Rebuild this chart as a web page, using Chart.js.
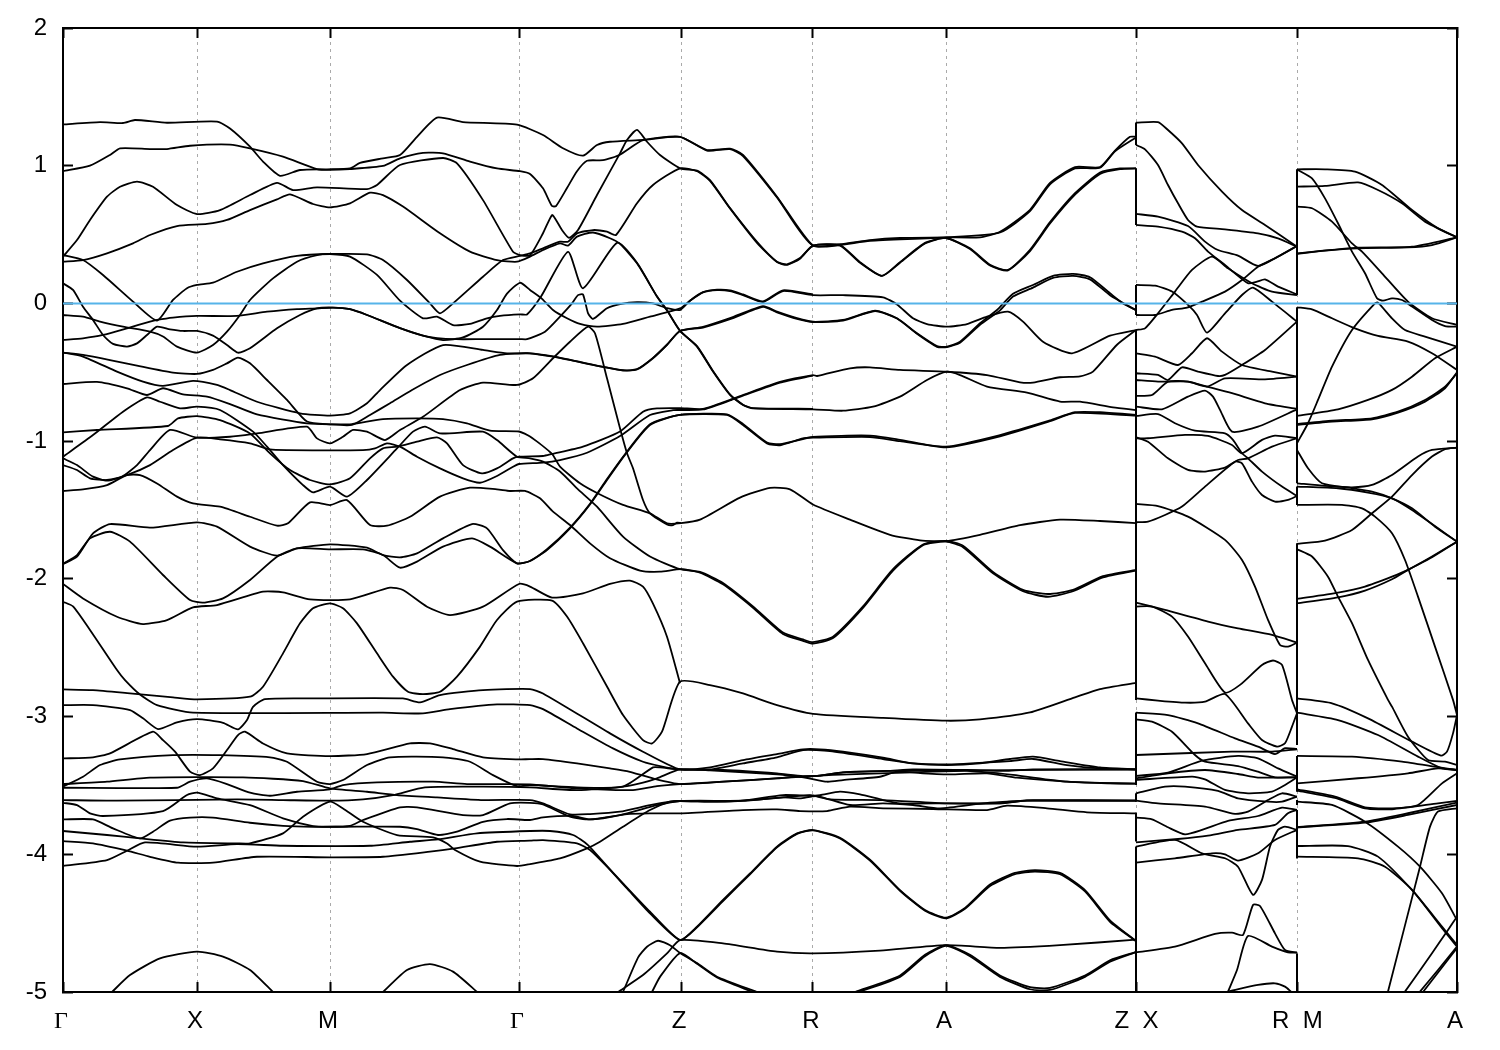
<!DOCTYPE html>
<html>
<head>
<meta charset="utf-8">
<title>Band structure</title>
<script src="https://cdn.jsdelivr.net/npm/chart.js@4"></script>
<style>
  body { margin: 0; background: #fff; }
  canvas { display: block; }
</style>
</head>
<body>
<canvas id="bands" width="1500" height="1050"></canvas>
<script>
// k path ticks
const kTicks = [0, 134, 267, 456, 618, 750, 883, 1073, 1234, 1394];
const kLabels = ['Γ', 'X', 'M', 'Γ', 'Z', 'R', 'A', '\u2009Z  X', '\u2009R  M', 'A'];
const energyTicks = [-5, -4, -3, -2, -1, 0, 1, 2];
const fermiLevel = [[0, 0], [1394, 0]];

// Γ - X - M - Γ - Z - R - A - Z
const b01 = [[0,1.30],[37,1.317],[60,1.31],[72,1.332],[104,1.312],[154,1.32],[167,1.27],[187,1.138],[200,1.03],[217,.927],[237,.969],[264,.974],[287,.98],[297,1.02],[320,1.054],[337,1.078],[354,1.21],[374,1.349],[400,1.317],[454,1.298],[480,1.223],[500,1.127],[520,1.073],[534,1.15],[547,1.174],[580,1.187],[617,1.21],[644,1.114],[667,1.124],[680,1.078],[714,.775],[750,.42],[777,.43],[807,.46],[837,.475],[883,.48],[917,.48],[937,.52],[967,.68],[987,.875],[1012,.99],[1037,.99],[1052,1.11],[1067,1.21],[1073,1.21]];
const b02 = [[0,.96],[27,1.0],[47,1.078],[57,1.126],[87,1.121],[104,1.121],[127,1.145],[167,1.153],[187,1.126],[220,1.066],[254,.976],[267,.97],[287,.976],[320,.998],[337,1.054],[360,1.094],[380,1.09],[407,1.03],[434,.98],[457,.96],[467,.94],[480,.836],[489,.707],[493,.707],[504,.838],[514,.96],[524,1.036],[540,1.04],[557,1.08],[580,1.185],[617,1.21],[644,1.11],[667,1.12],[680,1.07],[714,.77],[750,.42],[807,.455],[883,.48],[937,.515],[967,.67],[987,.865],[1012,.98],[1037,.985],[1052,1.105],[1073,1.205]];
const b03 = [[0,.34],[14,.46],[27,.606],[44,.775],[57,.847],[74,.884],[90,.847],[114,.714],[134,.649],[157,.678],[187,.787],[214,.876],[230,.823],[254,.843],[304,.83],[314,.86],[337,1.005],[380,1.056],[394,1.017],[420,.75],[450,.375],[457,.351],[467,.35],[480,.51],[489,.642],[493,.606],[499,.533],[506,.477],[515,.533],[534,.787],[557,1.09],[564,1.187],[574,1.26],[584,1.174],[597,1.078],[617,.981],[634,.964],[647,.896],[667,.693],[694,.448],[714,.303],[724,.284],[737,.33],[750,.42],[777,.424],[797,.30],[819,.2],[837,.30],[862,.44],[883,.475],[907,.40],[927,.28],[945,.243],[967,.39],[987,.59],[1012,.80],[1037,.95],[1057,.98],[1073,.98]];
const b04 = [[0,.303],[20,.315],[44,.364],[70,.436],[87,.497],[114,.562],[144,.577],[164,.606],[187,.678],[214,.756],[227,.792],[250,.722],[267,.698],[287,.727],[307,.804],[320,.787],[340,.703],[377,.509],[407,.376],[434,.315],[454,.303],[467,.34],[480,.388],[497,.436],[505,.42],[514,.485],[530,.515],[547,.473],[557,.432],[574,.291],[594,.05],[604,-.05],[617,-.197],[634,-.314],[650,-.495],[667,-.665],[680,-.738],[690,-.762],[750,-.769],[780,-.779],[810,-.75],[837,-.677],[864,-.556],[884,-.496],[897,-.52],[924,-.604],[964,-.648],[997,-.713],[1017,-.713],[1050,-.755],[1073,-.774]];
const b05 = [[0,.352],[20,.315],[40,.206],[70,.013],[94,-.125],[110,.025],[124,.11],[134,.134],[150,.151],[174,.23],[200,.291],[234,.346],[267,.359],[304,.356],[320,.315],[344,.17],[367,0],[377,-.072],[390,0],[420,.194],[440,.315],[457,.345],[467,.363],[480,.40],[497,.448],[505,.448],[514,.509],[530,.533],[544,.521],[553,.497],[574,.727],[590,.86],[617,.981],[634,.96],[647,.89],[667,.69],[694,.44],[714,.30],[724,.28],[737,.325],[750,.42],[777,.42],[797,.295],[819,.2],[837,.295],[862,.435],[883,.475],[907,.395],[927,.275],[945,.24],[967,.38],[987,.58],[1012,.79],[1037,.94],[1057,.975],[1073,.98]];
const b06 = [[0,.146],[10,.098],[20,-.024],[30,-.12],[40,-.229],[50,-.294],[64,-.313],[74,-.29],[84,-.229],[94,-.169],[107,-.188],[120,-.2],[134,-.2],[150,-.234],[164,-.302],[175,-.358],[187,-.326],[214,-.181],[237,-.084],[254,-.036],[270,-.03],[287,-.042],[304,-.084],[337,-.18],[360,-.234],[380,-.266],[400,-.247],[420,-.169],[434,-.048],[444,.071],[457,.15],[467,.098],[478,.04],[490,-.048],[504,-.108],[517,-.149],[534,-.169],[560,-.149],[587,-.096],[617,-.036],[627,.02],[640,.08],[654,.097],[667,.09],[680,.06],[700,.01],[720,.09],[750,.06],[780,.06],[820,.044],[834,-.007],[850,-.108],[864,-.15],[884,-.169],[904,-.15],[924,-.096],[945,-.06],[960,-.132],[980,-.278],[1009,-.362],[1047,-.234],[1073,-.193]];
const b07 = [[0,-.084],[20,-.096],[37,-.132],[60,-.169],[87,-.205],[100,-.24],[114,-.314],[134,-.357],[150,-.302],[164,-.205],[177,-.084],[187,.025],[210,.182],[234,.303],[254,.35],[267,.359],[287,.34],[314,.207],[337,.02],[360,-.108],[374,-.096],[390,-.157],[407,-.149],[424,-.108],[437,-.09],[457,-.079],[464,-.08],[478,.05],[505,.375],[520,.11],[554,.44],[574,.295],[594,.05],[604,-.05],[617,-.2],[634,-.31],[650,-.49],[667,-.66],[680,-.735],[690,-.76],[750,-.765]];
const b08 = [[0,-.265],[20,-.253],[40,-.229],[64,-.181],[87,-.132],[94,-.12],[110,-.103],[134,-.091],[174,-.091],[204,-.06],[234,-.041],[254,-.036],[270,-.03],[287,-.042],[304,-.084],[337,-.18],[360,-.234],[380,-.256],[400,-.26],[420,-.259],[457,-.259],[464,-.26],[482,-.205],[497,-.096],[509,0],[515,.06],[520,.065],[525,-.07],[530,-.113],[544,-.035],[557,-.005],[574,.01],[590,0],[604,-.035],[617,-.048],[627,.02],[640,.082],[654,.1],[667,.095],[680,.065],[700,.015],[720,.095],[750,.065]];
const b09 = [[0,-.357],[20,-.386],[54,-.495],[80,-.568],[100,-.599],[130,-.563],[154,-.592],[167,-.629],[194,-.714],[237,-.798],[267,-.815],[287,-.798],[304,-.725],[317,-.629],[344,-.447],[380,-.302],[420,-.338],[444,-.362],[467,-.362],[490,-.387],[540,-.46],[560,-.484],[574,-.48],[590,-.398],[604,-.3],[617,-.2],[640,-.17],[667,-.107],[700,-.02],[714,-.06],[734,-.107],[750,-.133],[780,-.12],[812,-.053],[834,-.108],[854,-.217],[874,-.31],[884,-.314],[897,-.278],[917,-.144],[934,-.048],[950,.07],[970,.134],[990,.2],[1010,.215],[1027,.19],[1047,.074],[1060,0],[1073,-.048]];
const b10 = [[0,-.357],[20,-.374],[47,-.411],[74,-.452],[110,-.503],[134,-.512],[150,-.483],[164,-.435],[175,-.394],[187,-.435],[204,-.556],[224,-.701],[244,-.858],[267,-.878],[289,-.882],[307,-.81],[327,-.725],[349,-.629],[377,-.52],[404,-.447],[437,-.374],[467,-.362],[490,-.385],[540,-.46],[560,-.487],[574,-.477],[590,-.395],[604,-.30],[617,-.2],[640,-.175],[667,-.115],[700,-.025],[714,-.065],[734,-.112],[750,-.135],[780,-.125],[812,-.055],[834,-.11],[854,-.22],[874,-.315],[884,-.317],[897,-.285],[917,-.155],[937,-.05],[950,.05],[970,.115],[990,.185],[1010,.2],[1027,.175],[1047,.06],[1073,-.05]];
const b11 = [[0,-1.125],[14,-1.174],[30,-1.258],[44,-1.287],[59,-1.258],[74,-1.174],[87,-1.065],[107,-.919],[134,-.975],[167,-.968],[194,-.944],[244,-.895],[254,-.98],[267,-1.016],[280,-.968],[290,-.919],[304,-.931],[322,-.992],[337,-.919],[360,-.823],[397,-.629],[420,-.575],[454,-.592],[470,-.544],[490,-.398],[507,-.278],[525,-.169],[532,-.217],[544,-.544],[557,-.907],[564,-1.088],[570,-1.197],[580,-1.427],[587,-1.524],[604,-1.605],[610,-1.61],[614,-1.592],[618,-1.595]];
const b12 = [[0,-.585],[34,-.57],[64,-.616],[84,-.665],[100,-.616],[120,-.66],[144,-.677],[167,-.731],[194,-.806],[244,-.871],[267,-.878],[289,-.876],[320,-.84],[354,-.835],[380,-.84],[404,-.871],[427,-.924],[456,-.93],[467,-.967],[489,-1.093],[497,-1.185],[517,-1.306],[535,-1.38],[560,-1.463],[587,-1.524],[604,-1.597],[618,-1.595],[637,-1.57],[677,-1.41],[707,-1.34],[727,-1.35],[750,-1.46],[787,-1.57],[827,-1.68],[857,-1.72],[883,-1.725],[917,-1.68],[957,-1.61],[997,-1.57],[1037,-1.58],[1073,-1.595]];
const b13 = [[0,-.936],[34,-.919],[105,-.89],[115,-.835],[134,-.818],[157,-.847],[187,-.944],[207,-1.089],[227,-1.21],[247,-1.282],[267,-1.314],[287,-1.27],[307,-1.125],[320,-1.052],[334,-1.04],[354,-1.004],[374,-.973],[384,-1.016],[400,-1.174],[419,-1.234],[434,-1.198],[450,-1.125],[456,-1.113],[480,-1.108],[489,-1.093],[520,-1.04],[557,-.93],[580,-.786],[594,-.762],[617,-.76],[640,-.766],[667,-.70],[680,-.665],[717,-.57],[750,-.52],[754,-.527],[787,-.471],[807,-.464],[837,-.483],[884,-.496],[924,-.52],[957,-.573],[970,-.575],[997,-.536],[1017,-.53],[1030,-.495],[1054,-.30],[1073,-.193]];
const b14 = [[0,-1.113],[30,-.956],[60,-.786],[84,-.682],[97,-.714],[117,-.762],[134,-.75],[157,-.774],[190,-.931],[204,-1.04],[220,-1.174],[240,-1.319],[250,-1.372],[267,-1.331],[284,-1.403],[304,-1.282],[334,-1.053],[350,-.931],[362,-.895],[377,-.944],[420,-.931],[434,-.992],[454,-1.113],[467,-1.125],[480,-1.149],[497,-1.22],[514,-1.343],[534,-1.476],[560,-1.693],[587,-1.838],[617,-1.93],[637,-1.95],[660,-2.03],[690,-2.2],[720,-2.39],[740,-2.44],[750,-2.46],[770,-2.42],[800,-2.2],[830,-1.93],[860,-1.75],[883,-1.725],[900,-1.76],[930,-1.95],[960,-2.08],[985,-2.11],[1010,-2.08],[1040,-1.98],[1073,-1.935]];
const b15 = [[0,-1.174],[14,-1.21],[27,-1.27],[44,-1.282],[64,-1.246],[87,-1.174],[110,-1.065],[134,-.975],[157,-.987],[187,-1.016],[207,-1.06],[224,-1.065],[300,-1.065],[312,-1.053],[324,-1.016],[337,-1.04],[354,-1.113],[377,-1.198],[400,-1.27],[417,-1.302],[434,-1.253],[450,-1.186],[456,-1.166],[480,-1.156],[497,-1.137],[524,-1.084],[557,-.963],[587,-.81],[610,-.775],[617,-.774],[640,-.77],[667,-.705],[680,-.67],[717,-.575],[750,-.525]];
const b16 = [[0,-1.362],[20,-1.35],[44,-1.319],[64,-1.246],[77,-1.246],[94,-1.307],[114,-1.403],[130,-1.452],[157,-1.476],[187,-1.549],[214,-1.614],[225,-1.597],[247,-1.445],[267,-1.464],[284,-1.428],[307,-1.609],[324,-1.614],[347,-1.549],[377,-1.403],[407,-1.338],[434,-1.35],[447,-1.362],[462,-1.362],[477,-1.415],[490,-1.512],[507,-1.609],[527,-1.742],[547,-1.85],[577,-1.94],[597,-1.948],[618,-1.93],[637,-1.955],[660,-2.04],[690,-2.21],[720,-2.40],[740,-2.45],[750,-2.47],[770,-2.43],[800,-2.21],[830,-1.94],[860,-1.755],[883,-1.73],[900,-1.77],[930,-1.96],[960,-2.09],[985,-2.13],[1010,-2.09],[1040,-1.99],[1073,-1.94]];
const b17 = [[0,-1.892],[14,-1.839],[30,-1.67],[47,-1.602],[87,-1.628],[134,-1.59],[154,-1.621],[187,-1.766],[214,-1.832],[234,-1.779],[267,-1.749],[304,-1.774],[320,-1.827],[337,-1.844],[354,-1.815],[380,-1.706],[409,-1.602],[424,-1.633],[440,-1.791],[454,-1.887],[467,-1.87],[484,-1.79],[507,-1.633],[527,-1.46],[544,-1.282],[562,-1.10],[587,-.883],[617,-.81],[664,-.81],[680,-.883],[704,-1.016],[717,-1.03],[740,-.98],[750,-.975],[807,-.97],[837,-1.0],[883,-1.04],[937,-.956],[987,-.85],[1012,-.79],[1037,-.79],[1073,-.81]];
const b18 = [[0,-1.892],[14,-1.827],[27,-1.706],[47,-1.658],[67,-1.73],[100,-1.972],[127,-2.154],[140,-2.173],[160,-2.142],[187,-2.008],[214,-1.839],[234,-1.779],[267,-1.786],[300,-1.786],[320,-1.827],[337,-1.919],[354,-1.875],[380,-1.766],[409,-1.706],[427,-1.766],[454,-1.887],[467,-1.87],[484,-1.785],[507,-1.628],[527,-1.455],[544,-1.275],[562,-1.095],[587,-.878],[617,-.81],[664,-.805],[680,-.875],[704,-1.01],[717,-1.022],[750,-.97],[807,-.96],[837,-.99],[883,-1.045],[937,-.965],[987,-.855],[1012,-.795],[1073,-.815]];
const b19 = [[0,-2.037],[20,-2.142],[54,-2.275],[80,-2.328],[104,-2.299],[130,-2.207],[154,-2.19],[200,-2.093],[220,-2.098],[247,-2.149],[287,-2.149],[327,-2.064],[340,-2.081],[364,-2.202],[387,-2.263],[420,-2.202],[456,-2.037],[467,-2.056],[489,-2.136],[520,-2.105],[547,-2.037],[567,-2.013],[580,-2.056],[590,-2.18],[604,-2.42],[617,-2.758]];
const b20 = [[0,-2.166],[10,-2.2],[27,-2.371],[54,-2.662],[62,-2.735],[77,-2.84],[94,-2.917],[130,-2.972],[320,-2.972],[360,-2.977],[387,-2.946],[434,-2.912],[467,-2.917],[480,-2.946],[514,-3.086],[550,-3.231],[580,-3.328],[597,-3.359],[617,-3.384],[660,-3.388],[714,-3.413],[740,-3.432],[757,-3.429],[780,-3.405],[824,-3.395],[850,-3.383],[904,-3.388],[944,-3.395],[970,-3.383],[1073,-3.383]];
const b21 = [[0,-2.803],[30,-2.808],[67,-2.832],[110,-2.861],[134,-2.875],[187,-2.856],[200,-2.783],[220,-2.541],[237,-2.323],[250,-2.214],[267,-2.178],[280,-2.214],[294,-2.323],[314,-2.541],[330,-2.71],[345,-2.82],[360,-2.837],[377,-2.82],[394,-2.71],[417,-2.492],[434,-2.299],[454,-2.166],[489,-2.158],[504,-2.274],[520,-2.468],[544,-2.782],[560,-2.989],[580,-3.171],[589,-3.195],[599,-3.11],[617,-2.747],[647,-2.771],[680,-2.832],[714,-2.917],[750,-2.98],[820,-3.01],[883,-3.03],[917,-3.02],[967,-2.97],[1012,-2.86],[1037,-2.8],[1073,-2.755]];
const b22 = [[0,-2.917],[30,-2.917],[67,-2.953],[80,-3.013],[95,-3.091],[114,-3.042],[134,-3.018],[160,-3.045],[175,-3.093],[184,-3.025],[190,-2.929],[202,-2.873],[254,-2.868],[340,-2.868],[357,-2.897],[377,-2.844],[420,-2.808],[467,-2.80],[480,-2.832],[547,-3.122],[580,-3.255],[617,-3.384],[647,-3.369],[680,-3.316],[714,-3.272],[740,-3.238],[757,-3.238],[780,-3.255],[820,-3.299],[850,-3.34],[884,-3.352],[917,-3.34],[947,-3.308],[970,-3.291],[997,-3.323],[1037,-3.369],[1073,-3.383]];
const b23 = [[0,-3.304],[30,-3.296],[47,-3.267],[90,-3.11],[100,-3.171],[112,-3.255],[127,-3.4],[137,-3.425],[150,-3.376],[164,-3.243],[175,-3.134],[182,-3.11],[200,-3.195],[224,-3.267],[267,-3.287],[304,-3.272],[347,-3.195],[367,-3.195],[390,-3.236],[420,-3.296],[454,-3.311],[467,-3.309],[480,-3.309],[514,-3.34],[547,-3.376],[564,-3.396],[590,-3.449],[617,-3.49],[660,-3.473],[714,-3.449],[737,-3.437],[764,-3.473],[780,-3.461],[817,-3.437],[834,-3.4],[860,-3.412],[887,-3.42],[924,-3.412],[954,-3.444],[1004,-3.473],[1044,-3.485],[1073,-3.487]];
const b24 = [[0,-3.509],[20,-3.437],[37,-3.352],[57,-3.311],[110,-3.28],[157,-3.28],[207,-3.296],[224,-3.328],[254,-3.473],[267,-3.49],[280,-3.461],[304,-3.352],[327,-3.296],[380,-3.296],[407,-3.328],[430,-3.425],[454,-3.505],[467,-3.497],[514,-3.514],[560,-3.509],[590,-3.369],[597,-3.369],[617,-3.384],[647,-3.384],[680,-3.34],[714,-3.296],[740,-3.243],[767,-3.25],[820,-3.308],[850,-3.34],[884,-3.347],[947,-3.323],[970,-3.308],[1004,-3.352],[1037,-3.376],[1073,-3.383]];
const b25 = [[0,-3.49],[44,-3.473],[87,-3.444],[180,-3.442],[240,-3.468],[267,-3.522],[304,-3.546],[334,-3.57],[374,-3.587],[420,-3.606],[467,-3.606],[480,-3.63],[507,-3.71],[527,-3.708],[557,-3.691],[587,-3.643],[607,-3.618],[617,-3.613],[654,-3.618],[680,-3.611],[720,-3.57],[747,-3.575],[757,-3.57],[777,-3.545],[797,-3.565],[820,-3.606],[837,-3.63],[884,-3.63],[937,-3.63],[964,-3.611],[997,-3.611],[1073,-3.611]];
const b26 = [[0,-3.517],[114,-3.517],[127,-3.473],[144,-3.449],[164,-3.49],[187,-3.553],[207,-3.575],[234,-3.546],[267,-3.529],[280,-3.497],[314,-3.478],[370,-3.473],[404,-3.49],[467,-3.492],[514,-3.522],[570,-3.534],[594,-3.505],[617,-3.49],[687,-3.461],[737,-3.437],[770,-3.424],[817,-3.412],[850,-3.405],[904,-3.395],[950,-3.424],[1004,-3.473],[1073,-3.487]];
const b27 = [[0,-3.606],[54,-3.611],[174,-3.601],[220,-3.606],[267,-3.611],[300,-3.601],[330,-3.57],[362,-3.514],[420,-3.509],[467,-3.514],[514,-3.534],[564,-3.505],[580,-3.48],[594,-3.449],[617,-3.384],[647,-3.39],[714,-3.42],[737,-3.437],[757,-3.429],[780,-3.405],[824,-3.395],[904,-3.39],[1073,-3.385]];
const b28 = [[0,-3.626],[14,-3.643],[27,-3.703],[40,-3.722],[100,-3.686],[124,-3.57],[134,-3.553],[154,-3.594],[187,-3.643],[220,-3.739],[250,-3.795],[267,-3.8],[287,-3.793],[300,-3.751],[337,-3.659],[354,-3.659],[400,-3.715],[420,-3.715],[447,-3.63],[467,-3.626],[480,-3.638],[507,-3.727],[527,-3.747],[557,-3.715],[594,-3.643],[617,-3.613],[680,-3.611],[720,-3.587],[737,-3.594],[754,-3.577],[787,-3.642],[820,-3.63],[850,-3.642],[877,-3.666],[920,-3.63],[944,-3.618],[970,-3.606],[1073,-3.611]];
const b29 = [[0,-3.747],[30,-3.747],[50,-3.812],[77,-3.885],[90,-3.836],[107,-3.756],[127,-3.734],[150,-3.734],[187,-3.771],[220,-3.793],[250,-3.8],[280,-3.8],[337,-3.8],[354,-3.817],[375,-3.86],[394,-3.836],[420,-3.764],[444,-3.744],[467,-3.751],[480,-3.732],[510,-3.722],[527,-3.747],[564,-3.708],[587,-3.703],[617,-3.703],[680,-3.679],[714,-3.674],[737,-3.686],[764,-3.686],[787,-3.654],[820,-3.666],[870,-3.671],[924,-3.679],[944,-3.647],[984,-3.666],[1024,-3.695],[1073,-3.703]];
const b30 = [[0,-3.831],[44,-3.86],[77,-3.885],[120,-3.914],[174,-3.921],[187,-3.921],[220,-3.848],[240,-3.727],[267,-3.618],[280,-3.667],[300,-3.764],[334,-3.86],[370,-3.877],[384,-3.921],[392,-3.969],[417,-4.054],[454,-4.085],[467,-4.071],[497,-4.03],[524,-3.957],[537,-3.909],[560,-3.8],[587,-3.679],[607,-3.618],[617,-3.613],[654,-3.618],[680,-3.611],[720,-3.587],[747,-3.57],[767,-3.601],[820,-3.606],[884,-3.63],[937,-3.63],[964,-3.611],[1073,-3.611]];
const b31 = [[0,-4.085],[44,-4.042],[64,-3.974],[82,-3.914],[134,-3.945],[174,-3.926],[220,-3.938],[307,-3.938],[347,-3.909],[375,-3.892],[414,-3.848],[467,-3.831],[487,-3.831],[510,-3.86],[525,-3.933],[540,-4.054],[560,-4.211],[587,-4.417],[617,-4.623],[634,-4.526],[660,-4.332],[687,-4.139],[714,-3.945],[734,-3.848],[750,-3.824],[777,-3.88],[807,-4.04],[837,-4.26],[862,-4.405],[883,-4.46],[902,-4.39],[927,-4.22],[952,-4.135],[972,-4.115],[997,-4.135],[1022,-4.26],[1047,-4.48],[1073,-4.63]];
const b32 = [[0,-3.904],[30,-3.921],[64,-3.974],[87,-4.018],[115,-4.061],[150,-4.061],[194,-4.018],[267,-4.022],[320,-4.018],[367,-3.981],[392,-3.957],[434,-3.909],[467,-3.901],[480,-3.897],[514,-3.921],[527,-3.969],[544,-4.09],[564,-4.248],[587,-4.429],[617,-4.623],[634,-4.53],[660,-4.34],[687,-4.145],[714,-3.95],[734,-3.852],[750,-3.826],[777,-3.885],[807,-4.045],[837,-4.265],[862,-4.41],[883,-4.465],[902,-4.395],[927,-4.23],[952,-4.145],[972,-4.125],[997,-4.145],[1022,-4.27],[1047,-4.49],[1073,-4.63]];
const b33 = [[49,-5.0],[67,-4.877],[97,-4.756],[134,-4.707],[160,-4.743],[187,-4.84],[210,-5.0]];
const b34 = [[320,-5.0],[344,-4.84],[367,-4.797],[390,-4.852],[415,-5.005]];
const b35 = [[555,-5.0],[580,-4.877],[604,-4.72],[617,-4.623],[660,-4.647],[714,-4.707],[750,-4.72],[817,-4.70],[883,-4.66],[937,-4.68],[997,-4.66],[1073,-4.62]];
const b36 = [[560,-5.0],[575,-4.75],[584,-4.671],[595,-4.628],[607,-4.66],[617,-4.717],[634,-4.79],[654,-4.889],[694,-5.0]];
const b37 = [[589,-5.0],[597,-4.89],[617,-4.717],[634,-4.795],[654,-4.895],[690,-5.0]];
const b38 = [[792,-5.0],[837,-4.88],[862,-4.73],[883,-4.66],[907,-4.73],[937,-4.88],[967,-4.965],[987,-4.97],[1022,-4.88],[1047,-4.77],[1073,-4.71]];
const b39 = [[796,-5.0],[837,-4.89],[862,-4.74],[883,-4.665],[907,-4.74],[937,-4.89],[967,-4.98],[987,-4.985],[1022,-4.89],[1047,-4.78],[1073,-4.71]];

// X - R
const c01 = [[1073,1.313],[1095,1.317],[1105,1.259],[1119,1.162],[1135,1.005],[1159,.812],[1179,.678],[1202,.57],[1234,.412]];
const c02 = [[1073,1.15],[1082,1.119],[1095,1.005],[1105,.86],[1115,.727],[1125,.606],[1134,.557],[1162,.538],[1195,.509],[1215,.473],[1234,.412]];
const c03 = [[1073,.65],[1095,.63],[1125,.562],[1142,.449],[1155,.388],[1175,.347],[1195,.272],[1215,.34],[1234,.417]];
const c04 = [[1073,.57],[1095,.558],[1119,.521],[1132,.473],[1145,.376],[1162,.279],[1185,.146],[1194,.158],[1202,.175],[1215,.122],[1234,.066]];
const c05 = [[1073,-.193],[1082,-.181],[1095,-.072],[1112,.086],[1129,.243],[1149,.34],[1165,.255],[1189,.146],[1209,.086],[1234,.061]];
const c06 = [[1073,.134],[1092,.129],[1109,.086],[1125,-.011],[1134,-.084],[1144,-.212],[1162,-.072],[1179,.061],[1190,.115],[1209,.013],[1234,-.132]];
const c07 = [[1073,-.084],[1092,-.084],[1109,-.047],[1124,-.03],[1139,.013],[1162,.086],[1179,.17],[1195,.267],[1212,.328],[1234,.417]];
const c08 = [[1073,-.362],[1092,-.386],[1115,-.447],[1129,-.362],[1144,-.253],[1159,-.35],[1179,-.447],[1209,-.495],[1234,-.532]];
const c09 = [[1073,-.507],[1095,-.519],[1105,-.556],[1119,-.464],[1135,-.495],[1155,-.527],[1162,-.519],[1179,-.447],[1202,-.338],[1234,-.132]];
const c10 = [[1073,-.556],[1095,-.568],[1125,-.568],[1144,-.604],[1162,-.544],[1202,-.551],[1234,-.532]];
const c11 = [[1073,-.672],[1089,-.665],[1105,-.568],[1125,-.568],[1144,-.604],[1169,-.652],[1202,-.725],[1234,-.766]];
const c12 = [[1073,-.749],[1099,-.769],[1125,-.677],[1142,-.633],[1150,-.677],[1157,-.773],[1169,-.931],[1195,-.895],[1234,-.769]];
const c13 = [[1073,-.817],[1095,-.803],[1112,-.87],[1132,-.924],[1162,-.943],[1170,-.991],[1179,-1.088],[1185,-1.125],[1199,-1.221],[1219,-1.33],[1234,-1.398]];
const c14 = [[1073,-.979],[1085,-.979],[1122,-.955],[1145,-.962],[1169,-1.028],[1179,-1.088],[1199,-.991],[1212,-.96],[1234,-.979]];
const c15 = [[1073,-.972],[1085,-1.004],[1105,-1.125],[1125,-1.209],[1142,-1.221],[1162,-1.192],[1175,-1.137],[1185,-1.125],[1209,-1.04],[1234,-.979]];
const c16 = [[1073,-1.589],[1085,-1.584],[1102,-1.536],[1119,-1.475],[1142,-1.33],[1172,-1.149],[1179,-1.161],[1189,-1.294],[1199,-1.391],[1212,-1.439],[1225,-1.427],[1234,-1.398]];
const c17 = [[1073,-1.456],[1095,-1.471],[1125,-1.548],[1162,-1.717],[1179,-1.863],[1192,-2.056],[1205,-2.298],[1217,-2.48],[1225,-2.492],[1234,-2.463]];
const c18 = [[1073,-2.172],[1102,-2.226],[1145,-2.31],[1175,-2.359],[1209,-2.407],[1234,-2.463]];
const c19 = [[1073,-2.201],[1089,-2.201],[1109,-2.274],[1125,-2.419],[1142,-2.613],[1162,-2.826],[1177,-2.77],[1199,-2.625],[1210,-2.593],[1219,-2.625],[1229,-2.879],[1234,-2.976]];
const c20 = [[1073,-2.868],[1095,-2.884],[1122,-2.899],[1142,-2.892],[1162,-2.836],[1185,-3.049],[1199,-3.17],[1214,-3.218],[1222,-3.194],[1229,-3.073],[1234,-2.976]];
const c21 = [[1073,-2.972],[1105,-2.989],[1135,-3.049],[1172,-3.158],[1195,-3.218],[1212,-3.272],[1222,-3.23],[1234,-3.235]];
const c22 = [[1073,-3.02],[1089,-3.037],[1109,-3.11],[1132,-3.279],[1142,-3.327],[1175,-3.359],[1195,-3.4],[1212,-3.441],[1234,-3.441]];
const c23 = [[1073,-3.279],[1169,-3.255],[1209,-3.255],[1234,-3.238]];
const c24 = [[1073,-3.431],[1105,-3.407],[1139,-3.32],[1175,-3.286],[1195,-3.303],[1215,-3.376],[1234,-3.436]];
const c25 = [[1073,-3.448],[1105,-3.412],[1142,-3.388],[1175,-3.417],[1195,-3.443],[1234,-3.441]];
const c26 = [[1073,-3.46],[1129,-3.436],[1142,-3.456],[1162,-3.533],[1185,-3.557],[1209,-3.545],[1222,-3.497],[1234,-3.441]];
const c27 = [[1073,-3.557],[1102,-3.509],[1122,-3.509],[1155,-3.54],[1175,-3.594],[1205,-3.618],[1219,-3.618],[1234,-3.581]];
const c28 = [[1073,-3.61],[1095,-3.63],[1142,-3.654],[1172,-3.707],[1185,-3.69],[1205,-3.606],[1219,-3.557],[1234,-3.581]];
const c29 = [[1073,-3.734],[1089,-3.746],[1105,-3.804],[1122,-3.855],[1139,-3.823],[1165,-3.758],[1195,-3.722],[1219,-3.661],[1234,-3.678]];
const c30 = [[1073,-3.913],[1115,-3.889],[1145,-3.865],[1175,-3.823],[1212,-3.787],[1225,-3.702],[1234,-3.678]];
const c31 = [[1073,-3.944],[1112,-3.896],[1139,-3.993],[1162,-4.029],[1175,-4.09],[1190,-4.295],[1199,-4.186],[1207,-3.944],[1215,-3.823],[1222,-3.799],[1234,-3.823]];
const c32 = [[1073,-4.06],[1112,-4.029],[1149,-3.993],[1162,-4.0],[1175,-4.046],[1195,-3.993],[1212,-3.896],[1234,-3.823]];
const c33 = [[1073,-4.712],[1112,-4.67],[1152,-4.578],[1169,-4.569],[1180,-4.586],[1190,-4.368],[1197,-4.375],[1212,-4.574],[1222,-4.695],[1234,-4.714]];
const c34 = [[1165,-4.997],[1174,-4.84],[1185,-4.593],[1209,-4.67],[1225,-4.712],[1234,-4.714]];
const c35 = [[1165,-4.997],[1195,-4.949],[1212,-4.937],[1222,-4.961],[1228,-4.997]];

// M - A
const d01 = [[1234,.974],[1262,.974],[1292,.957],[1319,.86],[1349,.678],[1375,.545],[1394,.48]];
const d02 = [[1235,.969],[1249,.908],[1262,.763],[1275,.582],[1289,.376],[1302,.219],[1314,.037],[1320,.02],[1329,.037],[1339,.025],[1349,-.023],[1369,-.12],[1382,-.164],[1394,-.169]];
const d03 = [[1234,.848],[1262,.853],[1295,.879],[1315,.824],[1339,.727],[1362,.594],[1394,.48]];
const d04 = [[1234,.703],[1249,.691],[1269,.594],[1289,.436],[1299,.376],[1319,.219],[1345,.013],[1369,-.108],[1394,-.156]];
const d05 = [[1234,.359],[1262,.383],[1295,.40],[1345,.407],[1369,.424],[1394,.48]];
const d06 = [[1234,.364],[1295,.405],[1349,.412],[1394,.48]];
const d07 = [[1234,-.028],[1249,-.043],[1269,-.108],[1292,-.181],[1315,-.236],[1345,-.277],[1369,-.362],[1394,-.483]];
const d08 = [[1234,-1.016],[1245,-.87],[1255,-.701],[1269,-.459],[1289,-.193],[1312,.001],[1315,.006],[1329,-.108],[1342,-.193],[1362,-.241],[1394,-.314]];
const d09 = [[1234,-.817],[1275,-.769],[1305,-.701],[1329,-.628],[1349,-.532],[1372,-.398],[1394,-.314]];
const d10 = [[1234,-.875],[1269,-.851],[1309,-.834],[1335,-.786],[1362,-.701],[1382,-.605],[1394,-.507]];
const d11 = [[1234,-.882],[1269,-.858],[1309,-.841],[1335,-.793],[1362,-.713],[1382,-.616],[1394,-.50]];
const d12 = [[1234,-1.064],[1245,-1.197],[1259,-1.306],[1289,-1.342],[1309,-1.367],[1329,-1.415],[1349,-1.488],[1372,-1.621],[1394,-1.73]];
const d13 = [[1234,-1.306],[1262,-1.325],[1289,-1.335],[1309,-1.318],[1329,-1.246],[1355,-1.112],[1369,-1.064],[1394,-1.047]];
const d14 = [[1234,-1.33],[1275,-1.342],[1305,-1.374],[1329,-1.415],[1349,-1.5],[1394,-1.73]];
const d15 = [[1234,-1.463],[1279,-1.463],[1299,-1.488],[1312,-1.548],[1329,-1.669],[1342,-1.863],[1355,-2.129],[1372,-2.492],[1390,-2.879],[1394,-2.989]];
const d16 = [[1234,-1.746],[1262,-1.722],[1289,-1.645],[1309,-1.524],[1329,-1.403],[1349,-1.246],[1369,-1.112],[1382,-1.059],[1394,-1.047]];
const d17 = [[1234,-1.785],[1249,-1.838],[1265,-1.984],[1275,-2.129],[1289,-2.322],[1305,-2.589],[1325,-2.879],[1329,-2.928],[1345,-3.146],[1365,-3.315],[1382,-3.327],[1394,-3.352]];
const d18 = [[1234,-2.146],[1275,-2.10],[1302,-2.056],[1329,-1.984],[1345,-1.935],[1369,-1.838],[1394,-1.73]];
const d19 = [[1234,-2.177],[1275,-2.134],[1302,-2.085],[1329,-2.003],[1345,-1.935],[1369,-1.843],[1394,-1.73]];
const d20 = [[1234,-2.868],[1269,-2.904],[1305,-3.013],[1349,-3.182],[1378,-3.284],[1384,-3.255],[1390,-3.122],[1394,-2.989]];
const d21 = [[1234,-2.972],[1275,-3.025],[1315,-3.134],[1355,-3.291],[1379,-3.376],[1394,-3.388]];
const d22 = [[1234,-3.286],[1289,-3.291],[1339,-3.327],[1375,-3.368],[1394,-3.388]];
const d23 = [[1234,-3.485],[1295,-3.448],[1345,-3.412],[1375,-3.376],[1394,-3.388]];
const d24 = [[1234,-3.528],[1272,-3.581],[1302,-3.659],[1329,-3.666],[1355,-3.642],[1379,-3.485],[1394,-3.412]];
const d25 = [[1234,-3.538],[1272,-3.591],[1302,-3.666],[1329,-3.673],[1375,-3.63],[1394,-3.613]];
const d26 = [[1234,-3.618],[1269,-3.642],[1302,-3.763],[1335,-3.944],[1357,-4.09],[1379,-4.283],[1393,-4.465]];
const d27 = [[1234,-3.804],[1302,-3.763],[1345,-3.702],[1394,-3.625]];
const d28 = [[1234,-3.804],[1302,-3.77],[1345,-3.714],[1394,-3.642]];
const d29 = [[1234,-3.94],[1285,-3.94],[1315,-4.017],[1349,-4.259],[1379,-4.525],[1394,-4.658]];
const d30 = [[1234,-4.017],[1295,-4.029],[1322,-4.09],[1349,-4.259],[1379,-4.537],[1394,-4.67]];
const d31 = [[1325,-4.997],[1357,-4.09],[1367,-3.799],[1375,-3.69],[1394,-3.666]];
const d32 = [[1342,-4.997],[1369,-4.719],[1385,-4.549],[1394,-4.453]];
const d33 = [[1357,-4.997],[1375,-4.84],[1394,-4.67]];
const d34 = [[1360,-5],[1377,-4.84],[1394,-4.68]];

// jumps where the path is broken, energies only
const jumpsZX = [[1.313,1.15],[.981,.57],[.134,-.084],[-.193,-2.88],[-2.97,-3.497],[-3.557,-3.618],[-3.698,-3.908],[-3.944,-5]];
const jumpsRM = [[.974,.061],[-.028,-1.306],[-1.33,-1.463],[-1.742,-3.206],[-3.286,-3.545],[-3.606,-3.642],[-3.678,-4.03],[-4.72,-5]];

const bandLines = [b01,b02,b03,b04,b05,b06,b07,b08,b09,b10,b11,b12,b13,b14,b15,b16,b17,b18,b19,b20,b21,b22,b23,b24,b25,b26,b27,b28,b29,b30,b31,b32,b33,b34,b35,b36,b37,b38,b39,
  c01,c02,c03,c04,c05,c06,c07,c08,c09,c10,c11,c12,c13,c14,c15,c16,c17,c18,c19,c20,c21,c22,c23,c24,c25,c26,c27,c28,c29,c30,c31,c32,c33,c34,c35,
  d01,d02,d03,d04,d05,d06,d07,d08,d09,d10,d11,d12,d13,d14,d15,d16,d17,d18,d19,d20,d21,d22,d23,d24,d25,d26,d27,d28,d29,d30,d31,d32,d33,d34];

const jumpLines = [];
jumpsZX.forEach(j => jumpLines.push([[kTicks[7], j[0]], [kTicks[7], j[1]]]));
jumpsRM.forEach(j => jumpLines.push([[kTicks[8], j[0]], [kTicks[8], j[1]]]));

const datasets = [{ data: fermiLevel, borderColor: '#56b4e9', borderWidth: 2, pointRadius: 0, tension: 0 }];
bandLines.forEach(b => datasets.push({ data: b, borderColor: '#000', borderWidth: 1.8, pointRadius: 0, tension: 0.2 }));
jumpLines.forEach(b => datasets.push({ data: b, borderColor: '#000', borderWidth: 2, pointRadius: 0, tension: 0 }));

const setKTicks = axis => { axis.ticks = kTicks.map(v => ({ value: v })); };
const setEnergyTicks = axis => { axis.ticks = energyTicks.map(v => ({ value: v })); };
const edge = { color: '#000', width: 2 };
const innerTick = { drawOnChartArea: false, tickLength: -10, tickColor: '#000', tickWidth: 2 };
// the axes keep their own sizes, no extra room for the end labels
const noPadding = axis => { axis.paddingTop = 0; axis.paddingBottom = 0; axis.paddingLeft = 0; axis.paddingRight = 0; };

new Chart(document.getElementById('bands').getContext('2d'), {
  type: 'line',
  data: { datasets: datasets },
  options: {
    responsive: false,
    animation: false,
    devicePixelRatio: 1,
    layout: { padding: 0 },
    plugins: { legend: { display: false }, tooltip: { enabled: false } },
    scales: {
      x: {
        type: 'linear', position: 'bottom', min: 0, max: 1394,
        afterBuildTicks: setKTicks,
        afterFit: axis => { axis.height = 58; noPadding(axis); },
        border: { color: '#000', width: 2, dash: [3, 4] },
        grid: { color: '#aaa', lineWidth: 1, tickLength: -10, tickColor: '#000', tickWidth: 2, tickBorderDash: [] },
        ticks: {
          color: '#000', padding: 25, labelOffset: -2, maxRotation: 0, autoSkip: false,
          font: ctx => ({ family: ctx.tick && ctx.tick.label === 'Γ' ? '"Liberation Serif"' : '"Liberation Sans"', size: 24 }),
          callback: (v, i) => kLabels[i]
        }
      },
      y: {
        type: 'linear', position: 'left', min: -5, max: 2,
        afterBuildTicks: setEnergyTicks,
        afterFit: axis => { axis.width = 63; noPadding(axis); },
        border: edge,
        grid: innerTick,
        ticks: {
          color: '#000', padding: 26,
          font: { family: '"Liberation Sans"', size: 24 },
          callback: v => String(v)
        }
      },
      xTop: {
        type: 'linear', position: 'top', min: 0, max: 1394,
        afterBuildTicks: setKTicks,
        afterFit: axis => { axis.height = 28; noPadding(axis); },
        border: edge,
        grid: innerTick,
        ticks: { display: false }
      },
      yRight: {
        type: 'linear', position: 'right', min: -5, max: 2,
        afterBuildTicks: setEnergyTicks,
        afterFit: axis => { axis.width = 43; noPadding(axis); },
        border: edge,
        grid: innerTick,
        ticks: { display: false }
      }
    }
  }
});
</script>
</body>
</html>
